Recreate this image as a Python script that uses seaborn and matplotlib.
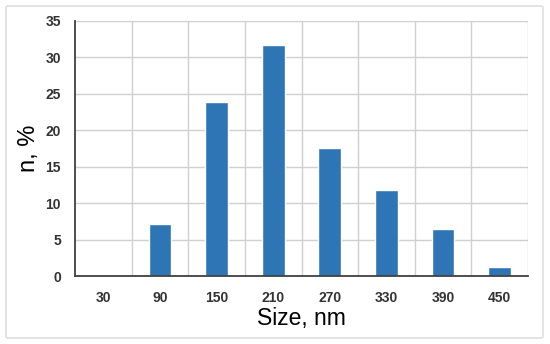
import matplotlib
matplotlib.use('Agg')
import matplotlib.pyplot as plt
import seaborn as sns
import pandas as pd
from matplotlib.patches import FancyBboxPatch
from matplotlib.ticker import FixedLocator

# size classes and share of particles
sizes = ['30', '90', '150', '210', '270', '330', '390', '450']
share = [0, 7.1, 23.9, 31.7, 17.6, 11.8, 6.5, 1.3]

df = pd.DataFrame({'size': sizes, 'n': share})

sns.set_style('white')
plt.rcParams['font.family'] = ['Liberation Sans', 'DejaVu Sans']

fig = plt.figure(figsize=(5.5, 3.44), dpi=100)
ax = fig.add_axes([75 / 550, 1 - 276 / 344, (528 - 75) / 550, (276 - 21) / 344])

# outer frame
fig.patches.append(FancyBboxPatch((6 / 550, 6 / 344), 537 / 550, 332 / 344,
                                  boxstyle='round,pad=0,rounding_size=0.004',
                                  transform=fig.transFigure, fill=False,
                                  edgecolor='#d9d9d9', linewidth=1.0))

sns.barplot(data=df, x='size', y='n', color='#2e75b6', saturation=1, width=0.4, ax=ax, zorder=3)

ax.set_xlim(-0.5, len(sizes) - 0.5)
ax.set_ylim(0, 35)
ax.set_yticks(range(0, 36, 5))
ax.xaxis.set_minor_locator(FixedLocator([i - 0.5 for i in range(1, len(sizes) + 1)]))
ax.grid(True, axis='y', which='major', color='#d0d0d0', linewidth=1.0, zorder=0)
ax.grid(True, axis='x', which='minor', color='#d0d0d0', linewidth=1.0, zorder=0)
ax.grid(False, axis='x', which='major')

for s in ['top', 'right']:
    ax.spines[s].set_visible(False)
for s in ['left', 'bottom']:
    ax.spines[s].set_color('#404040')
    ax.spines[s].set_linewidth(1.3)
    ax.spines[s].set_zorder(4)

ax.tick_params(axis='y', which='major', length=5, width=1.0, color='#404040',
               labelsize=10, labelcolor='#333333', pad=5)
ax.tick_params(axis='x', which='both', length=0, labelsize=10, labelcolor='#333333', pad=11)
for lab in ax.get_xticklabels() + ax.get_yticklabels():
    lab.set_fontweight('bold')

ax.set_xlabel('Size, nm', fontsize=16.5, color='black', labelpad=1)
ax.set_ylabel('n, %', fontsize=17, color='black', labelpad=4)

fig.savefig('out.png', dpi=100)
